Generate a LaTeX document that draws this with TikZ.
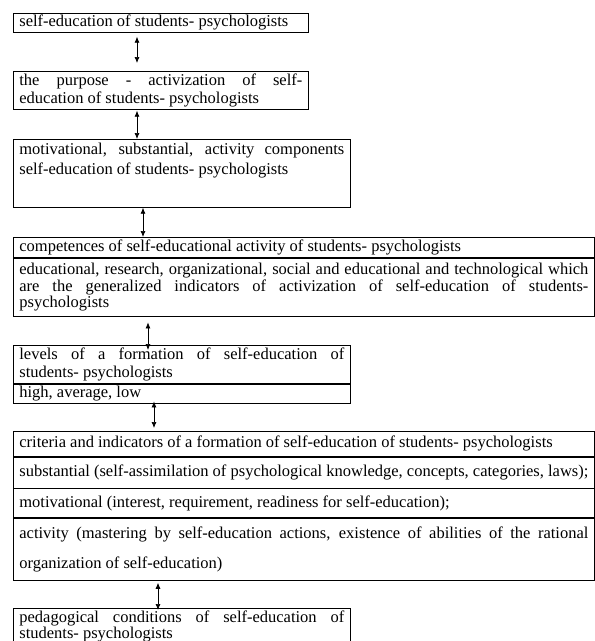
\documentclass[tikz,border=0pt]{standalone}
\usepackage{fontspec}
\setmainfont{Liberation Serif}
\usetikzlibrary{positioning,arrows.meta}
\hyphenpenalty=10000
\emergencystretch=20pt

\begin{document}
\begin{tikzpicture}[x=1pt,y=-1pt,
  box/.style={draw, line width=0.7pt, anchor=north west, inner xsep=6pt, inner ysep=0pt,
    align=justify, font=\fontsize{16.5}{18}\selectfont},
  narrow/.style={box, text width=283pt},
  mid/.style={box, text width=325pt},
  wide/.style={box, text width=569pt},
  link/.style={{Latex[length=6pt,width=5pt]}-{Latex[length=6pt,width=5pt]}, line width=0.7pt}]
\fill[white] (0,0) rectangle (595,641);
\clip (0,0) rectangle (595,641);
% boxes
\node[narrow, minimum height=19] (self) at (13,13) {self-education of students- psychologists};
\node[narrow, minimum height=38] (purpose) at (13,71) {the purpose - activization of self-\linebreak education of students- psychologists};
\node[mid, minimum height=68, inner ysep=3pt, text depth=50pt, font=\fontsize{16.5}{20}\selectfont] (components) at (13,139)
  {motivational, substantial, activity components\linebreak self-education of students- psychologists};
\node[wide, minimum height=20] (comp) at (13,237) {competences of self-educational activity of students- psychologists};
\node[wide, minimum height=58, below=0pt of comp, font=\fontsize{16.5}{16.5}\selectfont] (compList)
  {educational, research, organizational, social and educational and technological which\linebreak are the generalized indicators of activization of self-education of students-\linebreak psychologists};
\node[mid, minimum height=38] (levels) at (13,345) {levels of a formation of self-education of\linebreak students- psychologists};
\node[mid, minimum height=19, below=0pt of levels] (grades) {high, average, low};
\node[wide, minimum height=25] (criteria) at (13,431) {criteria and indicators of a formation of self-education of students- psychologists};
\node[wide, minimum height=31, below=0pt of criteria] (substantial) {substantial (self-assimilation of psychological knowledge, concepts, categories, laws);};
\node[wide, minimum height=29, below=0pt of substantial] (motivational) {motivational (interest, requirement, readiness for self-education);};
\node[wide, minimum height=62, below=0pt of motivational, font=\fontsize{16.5}{30}\selectfont] (activity)
  {activity (mastering by self-education actions, existence of abilities of the rational\linebreak organization of self-education)};
\node[mid, minimum height=36, inner ysep=2pt, text depth=20pt, font=\fontsize{16.5}{16}\selectfont] (conditions) at (13,608)
  {pedagogical conditions of self-education of\linebreak students- psychologists};
% arrows
\draw[link, shorten <=4pt, shorten >=8pt] ([xshift=124]self.south west) -- ([xshift=124]purpose.north west);
\draw[link, shorten <=1pt] ([xshift=124]purpose.south west) -- ([xshift=124]components.north west);
\draw[link] ([xshift=130]components.south west) -- ([xshift=130]comp.north west);
\draw[link, shorten <=6pt, shorten >=-5pt] ([xshift=135]compList.south west) -- ([xshift=135]levels.north west);
\draw[link, shorten <=-2pt, shorten >=3pt] ([xshift=141]grades.south west) -- ([xshift=141]criteria.north west);
\draw[link, shorten <=2pt, shorten >=-2pt] ([xshift=145]activity.south west) -- ([xshift=145]conditions.north west);
\end{tikzpicture}
\end{document}
